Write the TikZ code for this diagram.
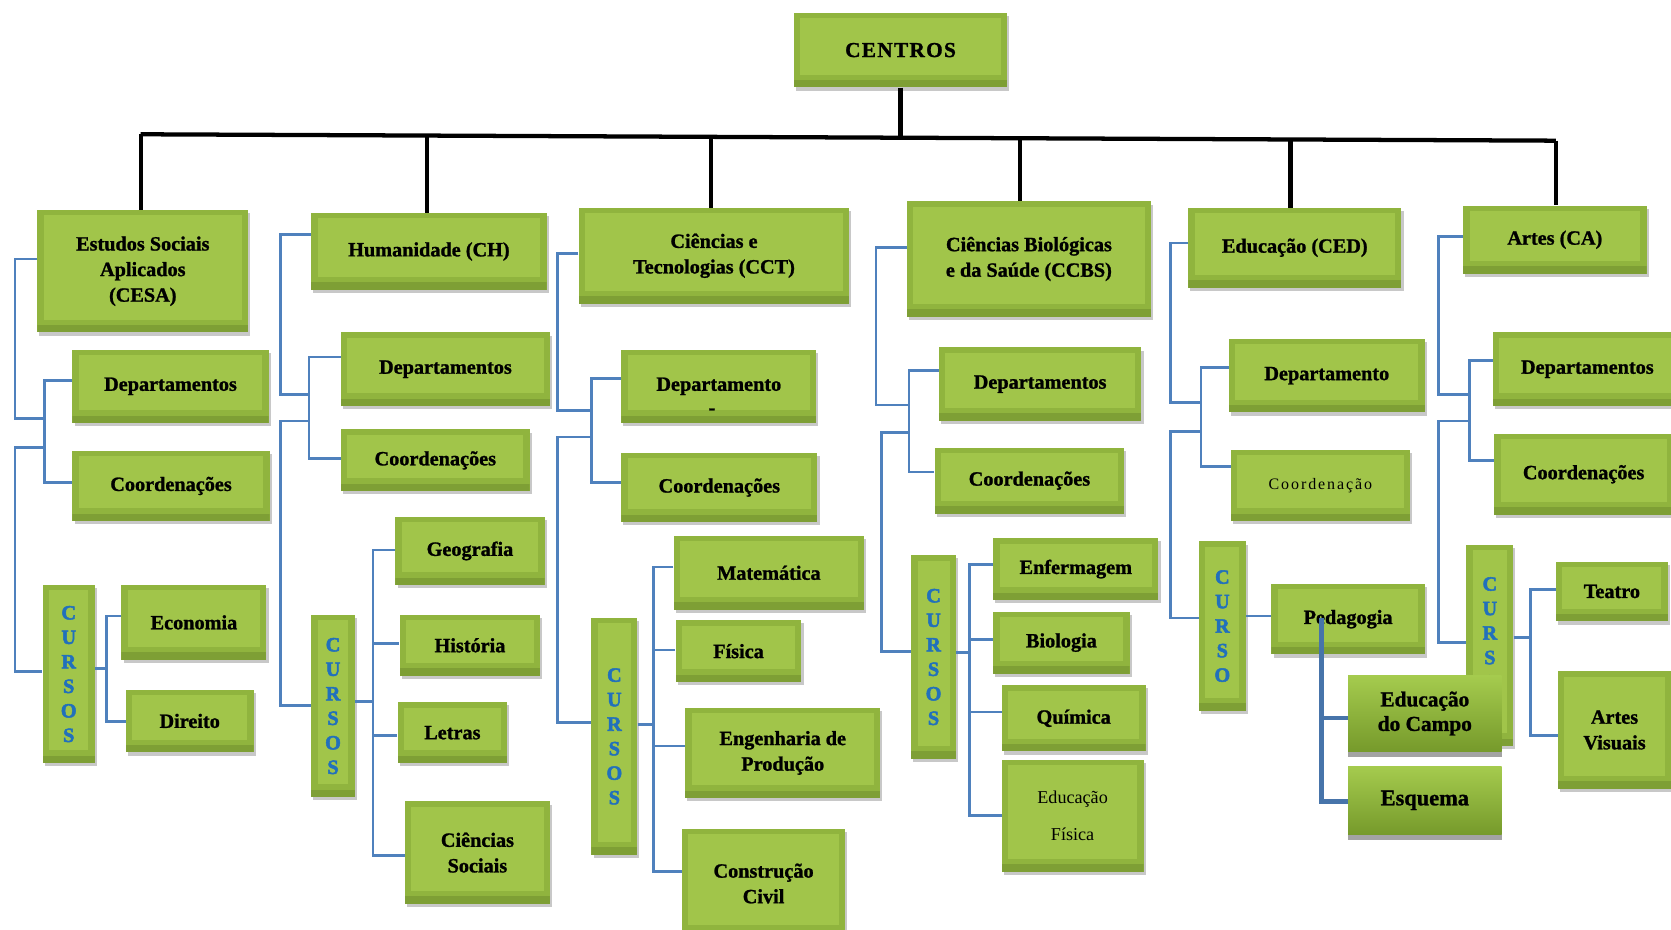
\documentclass[tikz,border=0pt]{standalone}
\usepackage{fontspec}
\setmainfont{Liberation Serif}[BoldFeatures={FakeBold=1.2}]
\newfontfamily\curfont{Liberation Serif}[BoldFeatures={FakeBold=2.5}]
\usetikzlibrary{shadows}
\definecolor{gmid}{HTML}{90B43E}
\definecolor{glight}{HTML}{A1C54A}
\definecolor{gdark}{HTML}{7E9F35}
\definecolor{cblue}{HTML}{2170BC}
\definecolor{lblue}{HTML}{4F81BD}
\definecolor{etop}{HTML}{A5CB4E}
\definecolor{ebot}{HTML}{769A2B}
\newcommand\lab{\bfseries\fontsize{19}{24}\selectfont}
\newcommand\cfont{\curfont\bfseries\fontsize{19}{23}\selectfont}
\newcommand\gbx[7][]{\node[gbox,minimum width={(#5-#3)*1pt},minimum height={(#6-#4)*1pt},#1] (#2) at ({(#3+#5)/2},{(#4+#6)/2}) {#7};}
\tikzset{
  gbox/.style={rectangle, inner sep=1pt, fill=gmid, align=center, font=\lab, text=black,
    drop shadow={shadow xshift=2pt, shadow yshift=-3pt, opacity=0.3, fill=black!70},
    path picture={
      \fill[glight] ([xshift=6pt,yshift=12pt]path picture bounding box.south west) rectangle ([xshift=-6pt,yshift=-5pt]path picture bounding box.north east);
      \fill[gdark] (path picture bounding box.south west) rectangle ([yshift=7pt]path picture bounding box.south east);
    }},
  cursos/.style={font=\cfont, text=cblue},
  ebox/.style={rectangle, inner sep=1pt, top color=etop, bottom color=ebot, align=center,
    font=\bfseries\fontsize{20}{23}\selectfont,
    drop shadow={shadow xshift=0pt, shadow yshift=-5pt, opacity=0.6, fill=black!60}},
  bl/.style={draw=lblue, line width=2.6pt},
  bl2/.style={draw=lblue!90!black, line width=4pt},
  blk/.style={draw=black, line width=4pt},
}
\begin{document}
\begin{tikzpicture}[x=1pt,y=-1pt]
\useasboundingbox (0,0) rectangle (1568,872);
\fill[white] (0,0) rectangle (1568,872);

% top
\gbx[font=\bfseries\fontsize{20}{24}\selectfont\addfontfeatures{LetterSpace=6}]{centros}{745}{12}{945}{82}{CENTROS}

% level 1
\gbx{cesa}{35}{197}{233}{312}{Estudos Sociais\\Aplicados\\(CESA)}
\gbx{ch}{292}{200}{513}{272}{Humanidade (CH)}
\gbx{cct}{543}{195}{797}{285}{Ciências e\\Tecnologias (CCT)}
\gbx{ccbs}{851}{189}{1080}{297}{Ciências Biológicas\\e da Saúde (CCBS)}
\gbx{ced}{1115}{195}{1315}{270}{Educação (CED)}
\gbx{ca}{1373}{193}{1545}{257}{Artes (CA)}

% black tree
\draw[blk] (centros.south) -- (845,129);
\draw[blk] (132,126) -- (1460,132);
\draw[blk] (132,126) -- (cesa.north -| 132,0);
\draw[blk] (401,127) -- (ch.north -| 401,0);
\draw[blk] (667,128) -- (cct.north -| 667,0);
\draw[blk] (957,130) -- (ccbs.north -| 957,0);
\draw[blk] (1211,131) -- (ced.north -| 1211,0);
\draw[blk] (1460,132) -- (ca.north -| 1460,0);

% CESA
\gbx{esaDep}{68}{328}{252}{397}{Departamentos}
\gbx{esaCo}{68}{423}{253}{489}{Coordenações}
\gbx[cursos]{esaCur}{40}{549}{89}{716}{C\\U\\R\\S\\O\\S}
\gbx{econ}{114}{549}{250}{619}{Economia}
\gbx{dir}{118}{647}{238}{706}{Direito}

% CH
\gbx{chDep}{320}{312}{516}{381}{Departamentos}
\gbx{chCo}{320}{403}{497}{461}{Coordenações}
\gbx{geo}{371}{485}{511}{549}{Geografia}
\gbx[cursos]{chCur}{292}{577}{333}{748}{C\\U\\R\\S\\O\\S}
\gbx{hist}{375}{577}{507}{634}{História}
\gbx{let}{373}{659}{476}{716}{Letras}
\gbx{cs}{380}{752}{516}{848}{Ciências\\Sociais}

% CCT
\gbx{cctDep}{583}{328}{766}{397}{Departamento}
\node[font=\lab] (cctDash) at (668,386) {-};
\gbx{cctCo}{583}{425}{767}{490}{Coordenações}
\gbx[cursos]{cctCur}{555}{580}{598}{802}{C\\U\\R\\S\\O\\S}
\gbx{mat}{632}{503}{811}{572}{Matemática}
\gbx{fis}{634}{582}{752}{640}{Física}
\gbx{eng}{643}{664}{826}{749}{Engenharia de\\Produção}
\gbx{civ}{640}{778}{793}{880}{Construção\\Civil}

% CCBS
\gbx{bDep}{881}{326}{1071}{395}{Departamentos}
\gbx{bCo}{877}{420}{1055}{482}{Coordenações}
\gbx[cursos]{bCur}{855}{521}{897}{712}{C\\U\\R\\S\\O\\S}
\gbx{enf}{932}{505}{1087}{563}{Enfermagem}
\gbx{bio}{932}{574}{1060}{632}{Biologia}
\gbx{qui}{940}{643}{1075}{705}{Química}
\gbx[font=\fontsize{17}{34}\selectfont]{edf}{940}{713}{1073}{818}{Educação\\Física}

% CED
\gbx{eDep}{1153}{318}{1337}{387}{Departamento}
\gbx[font=\fontsize{15}{20}\selectfont\addfontfeatures{LetterSpace=12}]{eCo}{1155}{422}{1323}{489}{Coordenação}
\gbx[cursos]{eCur}{1125}{508}{1169}{667}{C\\U\\R\\S\\O}
\gbx{ped}{1193}{548}{1337}{614}{Pedagogia}

% CA
\gbx{aDep}{1401}{312}{1578}{381}{Departamentos}
\gbx{aCo}{1402}{407}{1570}{483}{Coordenações}
\gbx[cursos]{aCur}{1376}{511}{1420}{700}{C\\U\\R\\S\\O\\S}
\gbx{tea}{1460}{527}{1565}{583}{Teatro}
\gbx{av}{1462}{630}{1568}{740}{Artes\\Visuais}

% blue connectors CESA
\coordinate (esaJ) at (42,420);
\draw[bl] (cesa.west |- 0,243) -| (14,393) -- (42,393);
\draw[bl] (esaDep.west |- 0,357) -| (42,453) -- (esaCo.west |- 0,453);
\draw[bl] (esaJ) -| (14,630) -- (esaCur.west |- 0,630);
\draw[bl] (esaCur.east |- 0,627) -- (100,627);
\draw[bl] (econ.west |- 0,578) -| (100,677) -- (dir.west |- 0,677);

% CH
\coordinate (chJ) at (290,395);
\draw[bl] (ch.west |- 0,220) -| (263,370) -- (290,370);
\draw[bl] (chDep.west |- 0,335) -| (290,430) -- (chCo.west |- 0,430);
\draw[bl] (chJ) -| (263,662) -- (chCur.west |- 0,662);
\draw[bl] (chCur.east |- 0,658) -- (350,658);
\draw[bl] (geo.west |- 0,516) -| (350,803) -- (cs.west |- 0,803);
\draw[bl] (350,604) -- (hist.west |- 0,604);
\draw[bl] (350,690) -- (let.west |- 0,690);

% CCT
\coordinate (cctJ) at (555,410);
\draw[bl] (cct.west |- 0,238) -| (523,385) -- (555,385);
\draw[bl] (cctDep.west |- 0,355) -| (555,453) -- (cctCo.west |- 0,453);
\draw[bl] (cctJ) -| (523,678) -- (cctCur.west |- 0,678);
\draw[bl] (cctCur.east |- 0,680) -- (613,680);
\draw[bl] (mat.west |- 0,532) -| (613,818) -- (civ.west |- 0,818);
\draw[bl] (613,610) -- (fis.west |- 0,610);
\draw[bl] (613,700) -- (eng.west |- 0,700);

% CCBS
\coordinate (bJ) at (853,406);
\draw[bl] (ccbs.west |- 0,232) -| (822,380) -- (853,380);
\draw[bl] (bDep.west |- 0,348) -| (853,443) -- (bCo.west |- 0,443);
\draw[bl] (bJ) -| (827,611) -- (bCur.west |- 0,611);
\draw[bl] (bCur.east |- 0,612) -- (910,612);
\draw[bl] (enf.west |- 0,530) -| (910,765) -- (edf.west |- 0,765);
\draw[bl] (910,600) -- (bio.west |- 0,600);
\draw[bl] (910,668) -- (qui.west |- 0,668);

% CED
\coordinate (eJ) at (1127,405);
\draw[bl] (ced.west |- 0,228) -| (1098,378) -- (1127,378);
\draw[bl] (eDep.west |- 0,345) -| (1127,438) -- (eCo.west |- 0,438);
\draw[bl] (eJ) -| (1098,580) -- (eCur.west |- 0,580);
\draw[bl] (eCur.east |- 0,578) -- (ped.west |- 0,578);

% CA
\coordinate (aJ) at (1379,395);
\draw[bl] (ca.west |- 0,222) -| (1350,370) -- (1379,370);
\draw[bl] (aDep.west |- 0,338) -| (1379,432) -- (aCo.west |- 0,432);
\draw[bl] (aJ) -| (1350,603) -- (aCur.west |- 0,603);
\draw[bl] (aCur.east |- 0,598) -- (1436,598);
\draw[bl] (tea.west |- 0,553) -| (1436,690) -- (av.west |- 0,690);

% Pedagogia sub-boxes
\node[ebox, minimum width=144pt, minimum height=71pt] (edc) at (1337,669.5) {Educação\\do Campo};
\node[ebox, minimum width=144pt, minimum height=64pt, font=\bfseries\fontsize{21}{23}\selectfont] (esq) at (1337,751) {Esquema};
\coordinate (pedJ) at (1240,580);
\draw[bl2] (pedJ) -- (1240,752) -- (esq.west |- 0,752);
\draw[bl2] (1240,674) -- (edc.west |- 0,674);
\end{tikzpicture}
\end{document}
